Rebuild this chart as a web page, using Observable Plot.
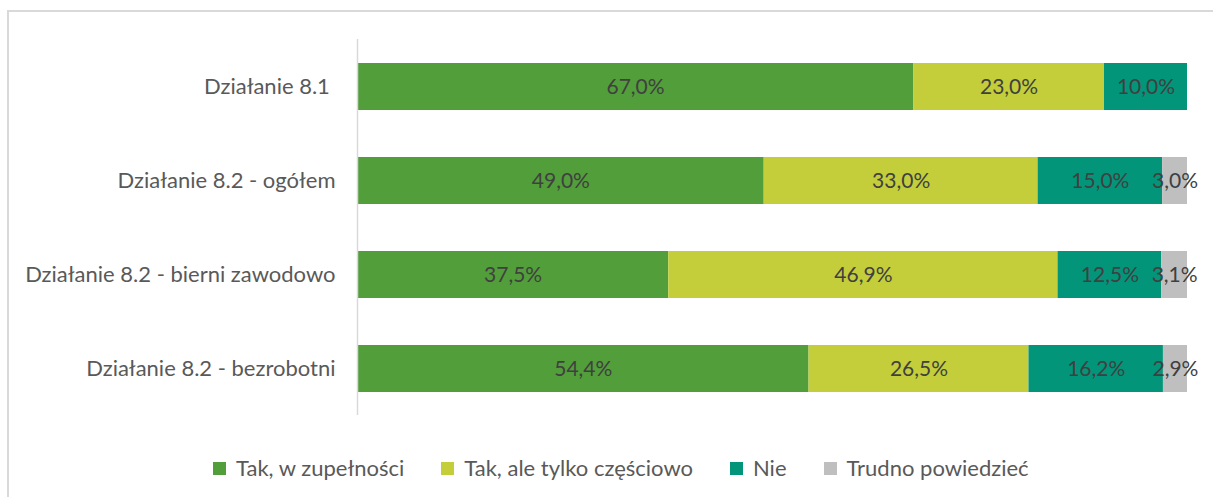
<!DOCTYPE html>
<html>
<head>
<meta charset="utf-8">
<script src="https://cdn.jsdelivr.net/npm/d3@7"></script>
<script src="https://cdn.jsdelivr.net/npm/@observablehq/plot@0.6"></script>
<style>
  html, body { margin: 0; padding: 0; background: #fff; }
  body { width: 1213px; height: 497px; position: relative; overflow: hidden; font-family: Lato, "Open Sans", sans-serif; }
  #frame { position: absolute; left: 7px; top: 10px; width: 1300px; height: 600px; border: 2px solid #d9d9d9; box-sizing: border-box; }
  #chart { position: absolute; left: 0; top: 0; }
  #legend { position: absolute; left: 213px; top: 455px; display: flex; gap: 37px; font-size: 22px; line-height: 26px; color: #595959; white-space: nowrap; }
  #legend .item { display: flex; align-items: center; }
  #legend .sw { width: 13px; height: 13px; margin-right: 10px; }
</style>
</head>
<body>
<div id="frame"></div>
<div id="chart"></div>
<div id="legend"></div>
<script>
const categories = ["Działanie 8.1\u00a0", "Działanie 8.2 - ogółem", "Działanie 8.2 - bierni zawodowo", "Działanie 8.2 - bezrobotni"];
const series = ["Tak, w zupełności", "Tak, ale tylko częściowo", "Nie", "Trudno powiedzieć"];
const colors = ["#529E3A", "#C4CE3A", "#02957A", "#BFBFBF"];
const valuesTakZupelnie = [67.0, 49.0, 37.5, 54.4];
const valuesTakCzesciowo = [23.0, 33.0, 46.9, 26.5];
const valuesNie = [10.0, 15.0, 12.5, 16.2];
const valuesTrudno = [0, 3.0, 3.1, 2.9];

const seriesValues = [valuesTakZupelnie, valuesTakCzesciowo, valuesNie, valuesTrudno];
const data = [];
categories.forEach((c, i) => {
  series.forEach((s, j) => {
    const v = seriesValues[j][i];
    if (v > 0) data.push({category: c, series: s, value: v});
  });
});
const fmt = v => v.toFixed(1).replace(".", ",") + "%";

const chart = Plot.plot({
  width: 1213,
  height: 430,
  marginLeft: 357,
  marginRight: 26,
  marginTop: 39,
  marginBottom: 15,
  style: {fontFamily: "Lato, 'Open Sans', sans-serif", fontSize: "22px", background: "transparent"},
  x: {domain: [0, 100], axis: null},
  y: {domain: categories, paddingInner: 0.5, paddingOuter: 0.25, label: null, tickSize: 0, tickPadding: 22},
  color: {domain: series, range: colors},
  marks: [
    Plot.barX(data, Plot.stackX({x: "value", y: "category", fill: "series", order: series, inset: 0})),
    Plot.text(data, Plot.stackX({x: "value", y: "category", z: "series", order: series, text: d => fmt(d.value), fill: "#404040", fontSize: 21})),
    Plot.ruleX([0], {stroke: "#d9d9d9", strokeWidth: 1.5}),
    Plot.axisY({tickSize: 0, tickPadding: 22, color: "#595959", fontSize: 22, label: null})
  ]
});
document.getElementById("chart").appendChild(chart);

const legend = document.getElementById("legend");
series.forEach((s, i) => {
  const item = document.createElement("div");
  item.className = "item";
  const sw = document.createElement("span");
  sw.className = "sw";
  sw.style.background = colors[i];
  const t = document.createElement("span");
  t.textContent = s;
  item.appendChild(sw);
  item.appendChild(t);
  legend.appendChild(item);
});
</script>
</body>
</html>
